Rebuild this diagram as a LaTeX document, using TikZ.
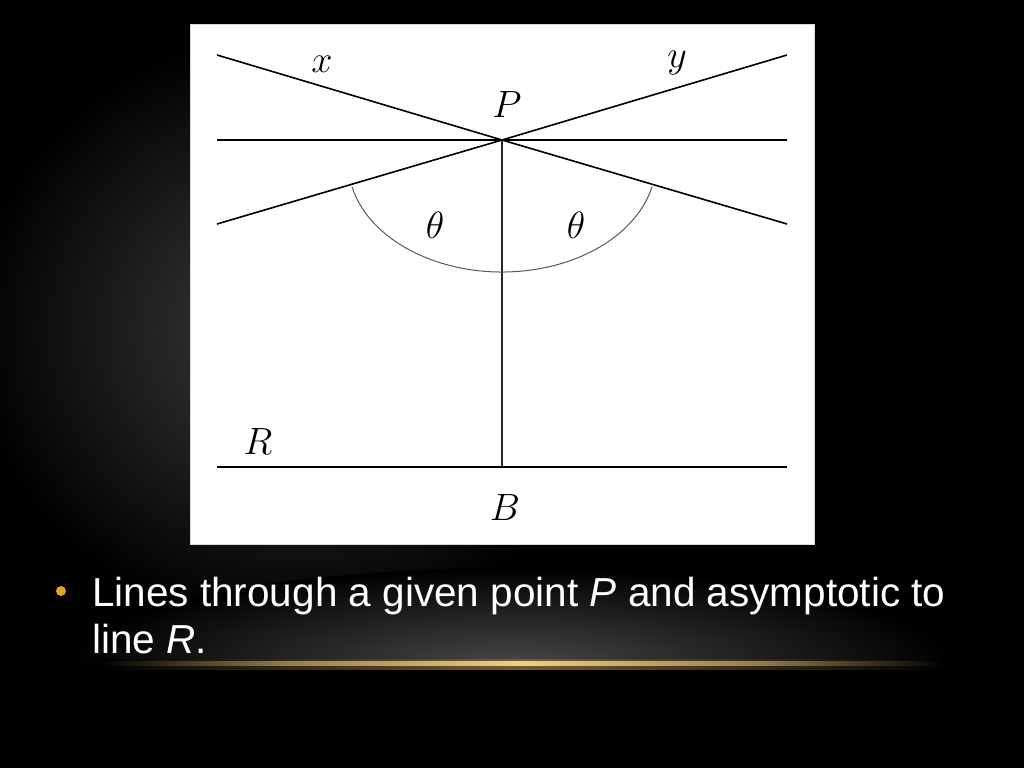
\documentclass[tikz,border=0pt]{standalone}
\usepackage{fontspec}
\newfontfamily\slidefont{Liberation Sans}
\usetikzlibrary{positioning,calc}
\definecolor{bulletgold}{RGB}{226,162,40}
\definecolor{glowgray}{RGB}{62,62,62}
\definecolor{lowglow}{RGB}{70,70,70}
\definecolor{goldcore}{RGB}{240,208,136}
\definecolor{goldhalo}{RGB}{120,90,40}
\pgfdeclareradialshading{sideglow}{\pgfpoint{0bp}{0bp}}{color(0bp)=(glowgray); color(25bp)=(black); color(50bp)=(black)}
\pgfdeclareradialshading{baseglow}{\pgfpoint{0bp}{0bp}}{color(0bp)=(lowglow); color(25bp)=(black); color(50bp)=(black)}
\pgfdeclarehorizontalshading{goldline}{100bp}{color(0bp)=(black); color(25bp)=(black); color(36bp)=(goldcore!60!black); color(50bp)=(goldcore); color(64bp)=(goldcore!60!black); color(75bp)=(black); color(100bp)=(black)}
\pgfdeclarehorizontalshading{goldglow}{100bp}{color(0bp)=(black); color(25bp)=(black); color(50bp)=(goldhalo); color(75bp)=(black); color(100bp)=(black)}
\tikzset{thickline/.style={line width=2.6pt, black},
         slantline/.style={line width=1.6pt, black},
         dropline/.style={line width=1.2pt, black!85},
         anglearc/.style={line width=1pt, black!65},
         mathlabel/.style={inner sep=0pt, font=\Huge, scale=1.527},
         bullettext/.style={inner sep=0pt, anchor=base west, text=white,
                            font=\slidefont\fontsize{40.5}{47}\selectfont}
}

\begin{document}
\begin{tikzpicture}[x=1pt,y=-1pt]
    \useasboundingbox (0,0) rectangle (1024,768);
    % background and glows
    \fill[black] (0,0) rectangle (1024,768);
    \shade[shading=sideglow] (300,330) ellipse [x radius=330, y radius=300];
    \begin{scope}
        \clip (0,0) rectangle (1024,663);
        \shade[shading=baseglow] (512,663) ellipse [x radius=440, y radius=95];
    \end{scope}
    \shade[shading=goldglow] (100,659) rectangle (944,669);
    \shade[shading=goldline] (100,661.5) rectangle (944,665.5);

    % white panel
    \fill[white, draw=black!15, line width=0.5pt] (190,24) rectangle (814,544);

    % points
    \coordinate (P)  at (502,140);
    \coordinate (F)  at (502,467);
    \coordinate (xl) at (217,55);
    \coordinate (xr) at (787,224);
    \coordinate (yl) at (217,224);
    \coordinate (yr) at (787,55);
    \coordinate (hl) at (217,140);
    \coordinate (hr) at (787,140);
    \coordinate (rl) at (217,467);
    \coordinate (rr) at (787,467);
    \coordinate (O)  at (502,162);

    \draw[thickline] (hl) -- (hr);
    \draw[thickline] (rl) -- (rr);
    \draw[slantline] (xl) -- (P) -- (xr);
    \draw[slantline] (yl) -- (P) -- (yr);
    \draw[dropline] (P) -- (F);
    \draw[anglearc] (O) ++(167:154 and 110)
        arc[start angle=167, end angle=13, x radius=154, y radius=110];

    \node[mathlabel] (xlab) at (322,64)  {$x$};
    \node[mathlabel] (ylab) at (677,63)  {$y$};
    \node[mathlabel] (Plab) at (507,105) {$P$};
    \node[mathlabel] (tl)   at (435,225) {$\theta$};
    \node[mathlabel] (tr)   at (576,225) {$\theta$};
    \node[mathlabel] (Rlab) at (258,442) {$R$};
    \node[mathlabel] (Blab) at (505,508) {$B$};

    % bullet text
    \node[circle, fill=bulletgold, inner sep=0pt, minimum size=10pt] (dot) at (61,591) {};
    \node[bullettext] (line1) at (92,606) {Lines through a given point \textit{P} and asymptotic to};
    \node[bullettext] (line2) at (92,653) {line \textit{R}.};
\end{tikzpicture}
\end{document}
